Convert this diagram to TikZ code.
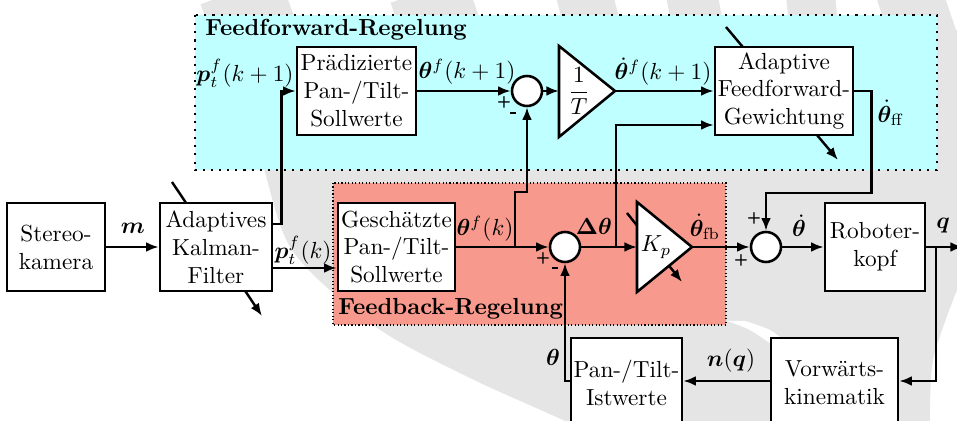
\documentclass[tikz,border=0pt]{standalone}
\usepackage{amsmath,bm}
\usetikzlibrary{arrows.meta,calc}
\definecolor{ffcyan}{RGB}{191,255,255}
\definecolor{fbred}{RGB}{247,153,141}
\definecolor{wmgrey}{RGB}{229,229,229}
\tikzset{
  blk/.style 2 args={draw, line width=1.1pt, fill=white, align=center, inner sep=1pt,
    minimum width=#1*0.43pt, minimum height=#2*0.43pt},
  sumpt/.style={circle, draw, line width=1.1pt, fill=white, minimum size=30*0.43pt, inner sep=0pt},
  gain/.style={draw, line width=1.1pt, fill=white, line join=miter},
  arr/.style={line width=1.05pt, -{Latex[length=5.4pt,width=4.2pt]}},
  lbl/.style={inner sep=1pt},
  pm/.style={inner sep=0pt, font=\fontsize{7}{7}\selectfont\sffamily\bfseries},
  grp/.style={font=\bfseries, inner sep=0pt, anchor=west},
  band/.style={wmgrey, line cap=butt},
}
\newcommand{\minussign}{\rule[0pt]{2.4pt}{0.9pt}}
\begin{document}
\begin{tikzpicture}[x=0.43pt, y=-0.43pt]
\clip (0,0) rectangle (957,421);
\fill[white] (0,0) rectangle (957,421);

% background logo: large swept shape
\fill[wmgrey] plot[smooth] coordinates {(210,30) (258,150) (292,250) (376,327) (470,378) (565,421) (575,430)}
  -- (930,430) -- plot[smooth] coordinates {(930,430) (933,360) (957,290)} -- (957,30) -- cycle;
% stripes at the upper edge
\draw[band, line width=36pt] (240,-10) -- (258,40);
\draw[band, line width=34pt] (428,-10) -- (445,40);
\draw[band, line width=24pt] (583,-10) -- (596,40);
\draw[band, line width=22pt] (691,-10) -- (700,40);
\draw[band, line width=21pt] (810,-10) -- (815,40);
\draw[band, line width=28pt] (908,-10) -- (925,40);
% gaps inside the logo
\fill[white] plot[smooth] coordinates {(727,321) (750,330) (775,347) (790,360)} -- (790,345)
  -- plot[smooth] coordinates {(790,345) (770,330) (745,321)} -- cycle;
\fill[white] plot[smooth] coordinates {(957,330) (940,360) (937,421)} -- (957,421) -- cycle;

% control groups
\draw[fill=ffcyan, line width=0.9pt, dash pattern=on 0.9pt off 2.6pt] (195,15) rectangle (937,170);
\node[grp] (ffname) at (205,30) {Feedforward-Regelung};
\draw[fill=fbred, line width=0.5pt, dash pattern=on 0.5pt off 1pt] (333,183) rectangle (726,325);
\node[grp] (fbname) at (338,309) {Feedback-Regelung};

% adaptation arrows running through their blocks
\draw[arr] (172,182) -- (262,316);
\draw[arr] (726,27) -- (838,160);
\draw[arr] (627,213) -- (682,282);

% blocks
\node[blk={98}{88}]  (stereo) at (56,247)    {Stereo-\\kamera};
\node[blk={112}{88}] (kalman) at (216,247)   {Adaptives\\Kalman-\\Filter};
\node[blk={119}{88}] (praed)  at (356.5,91)  {Prädizierte\\Pan-/Tilt-\\Sollwerte};
\node[blk={117}{88}] (gesch)  at (396.5,247) {Geschätzte\\Pan-/Tilt-\\Sollwerte};
\node[blk={138}{88}] (afg)    at (784,91)    {Adaptive\\Feedforward-\\Gewichtung};
\node[blk={100}{88}] (robot)  at (875,247)   {Roboter-\\kopf};
\node[blk={127}{90}] (vorw)   at (834.5,383) {Vorwärts-\\kinematik};
\node[blk={111}{90}] (pant)   at (626.5,383) {Pan-/Tilt-\\Istwerte};

\node[sumpt] (s1) at (527,91) {};
\node[sumpt] (s2) at (565,247) {};
\node[sumpt] (s3) at (766,247) {};

% gain blocks
\draw[gain] (559,46) -- (615,91) -- (559,137) -- cycle;
\coordinate (t1in) at (559,91);
\coordinate (t1out) at (615,91);
\node (t1) at (579,91) {$\dfrac{1}{T}$};
\draw[gain] (637,202) -- (692,247) -- (637,292) -- cycle;
\coordinate (kpin) at (637,247);
\coordinate (kpout) at (692,247);
\node (kp) at (656,247) {$K_p$};

% helper levels and branch points
\coordinate (yD) at (0,224);
\coordinate (yE) at (0,268);
\coordinate (yB) at (0,125);
\coordinate (yF) at (0,381);
\coordinate (br1) at (515,247);
\coordinate (br2) at (616,247);
\coordinate (br3) at (936,247);
\coordinate (j3) at (766,193);
\coordinate (out) at (963,247);

% connectors
\draw[arr] (stereo.east) -- (kalman.west);
\draw[arr] (kalman.east |- yE) -- (gesch.west |- yE);
\draw[arr] (kalman.east |- yD) -- ++(8,0) |- (praed.west);
\draw[arr] (praed.east) -- (s1.west);
\draw[arr] (s1.east) -- (t1in);
\draw[arr] (t1out) -- (afg.west);
\draw[arr] (gesch.east) -- (s2.west);
\draw[arr] (br1) -- ++(0,-55) -| (s1.south);
\draw[arr] (s2.east) -- (kpin);
\draw[arr] (br2) |- (afg.west |- yB);
\draw[arr] (kpout) -- (s3.west);
\draw[arr] (afg.east) -- ++(17,0) |- (j3) -- (s3.north);
\draw[arr] (s3.east) -- (robot.west);
\draw[arr] (robot.east) -- (out);
\draw[arr] (br3) |- (vorw.east |- yF);
\draw[arr] (vorw.west |- yF) -- (pant.east |- yF);
\draw[arr] (pant.west |- yF) -| (s2.south);

% signal labels
\node[lbl] (lm)    at (133,228) {$\bm{m}$};
\node[lbl] (lpk1)  at (245,73)  {$\bm{p}_t^f(k+1)$};
\node[lbl] (lpk)   at (303,250) {$\bm{p}_t^f(k)$};
\node[lbl] (lthk1) at (467,72)  {$\bm{\theta}^f(k+1)$};
\node[lbl] (ldth)  at (663,72)  {$\dot{\bm{\theta}}^f(k+1)$};
\node[lbl] (lff)   at (891,113) {$\dot{\bm{\theta}}_{\mathrm{ff}}$};
\node[lbl] (lthk)  at (485,229) {$\bm{\theta}^f(k)$};
\node[lbl] (ldel)  at (594,226) {$\bm{\Delta\theta}$};
\node[lbl] (lfb)   at (705,227) {$\dot{\bm{\theta}}_{\mathrm{fb}}$};
\node[lbl] (ldot)  at (799,226) {$\dot{\bm{\theta}}$};
\node[lbl] (lq)    at (943,226) {$\bm{q}$};
\node[lbl] (lnq)   at (731,361) {$\bm{n}(\bm{q})$};
\node[lbl] (lth)   at (553,357) {$\bm{\theta}$};

% summation signs
\node[pm] (s1p) at (504,102) {+};
\node[pm] (s1m) at (513,113) {\minussign};
\node[pm] (s2p) at (543,258) {+};
\node[pm] (s2m) at (555,268) {\minussign};
\node[pm] (s3a) at (754,218) {+};
\node[pm] (s3b) at (741,260) {+};
\end{tikzpicture}
\end{document}
